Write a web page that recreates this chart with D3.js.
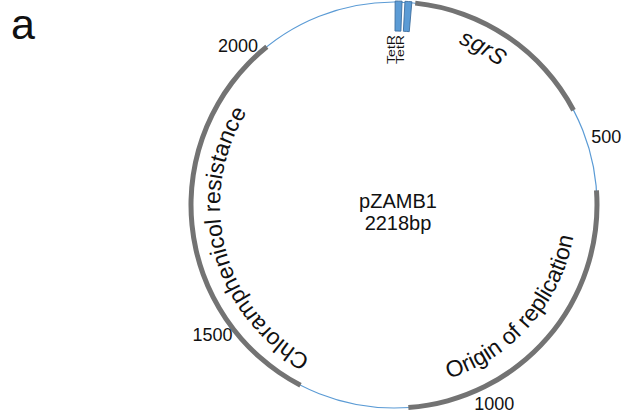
<!DOCTYPE html>
<html><head><meta charset="utf-8">
<script src="https://cdn.jsdelivr.net/npm/d3@7"></script>
<style>html,body{margin:0;padding:0;background:#fff;} svg{display:block;}</style>
</head><body>
<svg id="chart" width="631" height="413"></svg>
<script>
// ---- data ----
const plasmidName = "pZAMB1";
const plasmidLength = 2218;
const featureNames = ["sgrS", "Origin of replication", "Chloramphenicol resistance"];
const featureStarts = [37, 529, 1278];
const featureEnds = [383, 1084, 1979];
const markerNames = ["TetR", "TetR"];
const markerStarts = [2, 19];
const markerEnds = [14, 31];
const tickValues = [500, 1000, 1500, 2000];
const panelLetter = "a";

// ---- layout ----
const cx = 394, cy = 205, R = 203;
const FONT = "'Liberation Sans', Arial, Helvetica, sans-serif";
const svg = d3.select("#chart");
svg.append("rect").attr("width", 631).attr("height", 413).attr("fill", "#fff");
const ang = d3.scaleLinear().domain([0, plasmidLength]).range([0, 2 * Math.PI]);
const g = svg.append("g").attr("transform", `translate(${cx},${cy})`);
const defs = svg.append("defs");

// backbone
g.append("circle").attr("r", R).attr("fill", "none")
  .attr("stroke", "#5b9bd5").attr("stroke-width", 1.2);

// features
const features = featureNames.map((n, i) => ({ name: n, start: featureStarts[i], end: featureEnds[i] }));
const featArc = d3.arc().innerRadius(R - 2.5).outerRadius(R + 2.5)
  .startAngle(d => ang(d.start)).endAngle(d => ang(d.end));
g.selectAll("path.feature").data(features).join("path")
  .attr("class", "feature").attr("d", featArc).attr("fill", "#737373");

// markers (TetR boxes)
const markers = markerNames.map((n, i) => ({ name: n, start: markerStarts[i], end: markerEnds[i] }));
const boxArc = d3.arc().innerRadius(R - 29).outerRadius(R + 1)
  .startAngle(d => ang(d.start)).endAngle(d => ang(d.end));
g.selectAll("path.marker").data(markers).join("path")
  .attr("class", "marker").attr("d", boxArc)
  .attr("fill", "#5b9bd5").attr("stroke", "#3d6e9e").attr("stroke-width", 0.9);
// vertical labels under each box
g.selectAll("text.marker").data(markers).join("text")
  .attr("class", "marker")
  .attr("transform", d => {
    const x = (R - 15) * Math.sin(ang((d.start + d.end) / 2)) - 3.5;
    return `translate(${x},${-(R - 33)}) rotate(-90)`;
  })
  .attr("text-anchor", "end")
  .attr("font-family", FONT).attr("font-size", 11).attr("fill", "#111")
  .attr("textLength", 29).attr("lengthAdjust", "spacingAndGlyphs")
  .text(d => d.name);

// feature labels along the arcs
const labelLayout = {
  "sgrS": { rb: 174, dir: "cw", shift: -4.6, style: "italic" },
  "Origin of replication": { rb: 182, dir: "ccw", shift: 0.3, style: "normal" },
  "Chloramphenicol resistance": { rb: 174, dir: "cw", shift: -8.8, style: "normal" }
};
features.forEach((d, i) => {
  const L = labelLayout[d.name];
  const c = (ang(d.start) + ang(d.end)) / 2 + L.shift * Math.PI / 180 - Math.PI / 2;
  const span = 100 * Math.PI / 180;
  const p = d3.path();
  if (L.dir === "cw") p.arc(0, 0, L.rb, c - span, c + span, false);
  else p.arc(0, 0, L.rb, c + span, c - span, true);
  defs.append("path").attr("id", "lp" + i).attr("d", p.toString());
  g.append("text")
    .attr("font-family", FONT).attr("font-size", 23).attr("font-style", L.style).attr("fill", "#111")
    .append("textPath").attr("href", "#lp" + i).attr("startOffset", "50%").attr("text-anchor", "middle")
    .text(d.name);
});

// tick labels
const tickShift = -9 * Math.PI / 180, tickR = R + 20;
g.selectAll("text.tick").data(tickValues).join("text")
  .attr("class", "tick")
  .attr("x", v => tickR * Math.sin(ang(v) + tickShift))
  .attr("y", v => -tickR * Math.cos(ang(v) + tickShift))
  .attr("text-anchor", "middle").attr("dominant-baseline", "central")
  .attr("font-family", FONT).attr("font-size", 18).attr("fill", "#111")
  .text(v => v);

// centre title
g.append("text").attr("x", 4).attr("y", 2.5).attr("text-anchor", "middle")
  .attr("font-family", FONT).attr("font-size", 20).attr("fill", "#111").text(plasmidName);
g.append("text").attr("x", 4).attr("y", 24.5).attr("text-anchor", "middle")
  .attr("font-family", FONT).attr("font-size", 20).attr("fill", "#111").text(plasmidLength + "bp");

// panel letter
svg.append("text").attr("x", 11).attr("y", 39)
  .attr("font-family", FONT).attr("font-size", 43).attr("fill", "#111").text(panelLetter);
</script>
</body></html>
